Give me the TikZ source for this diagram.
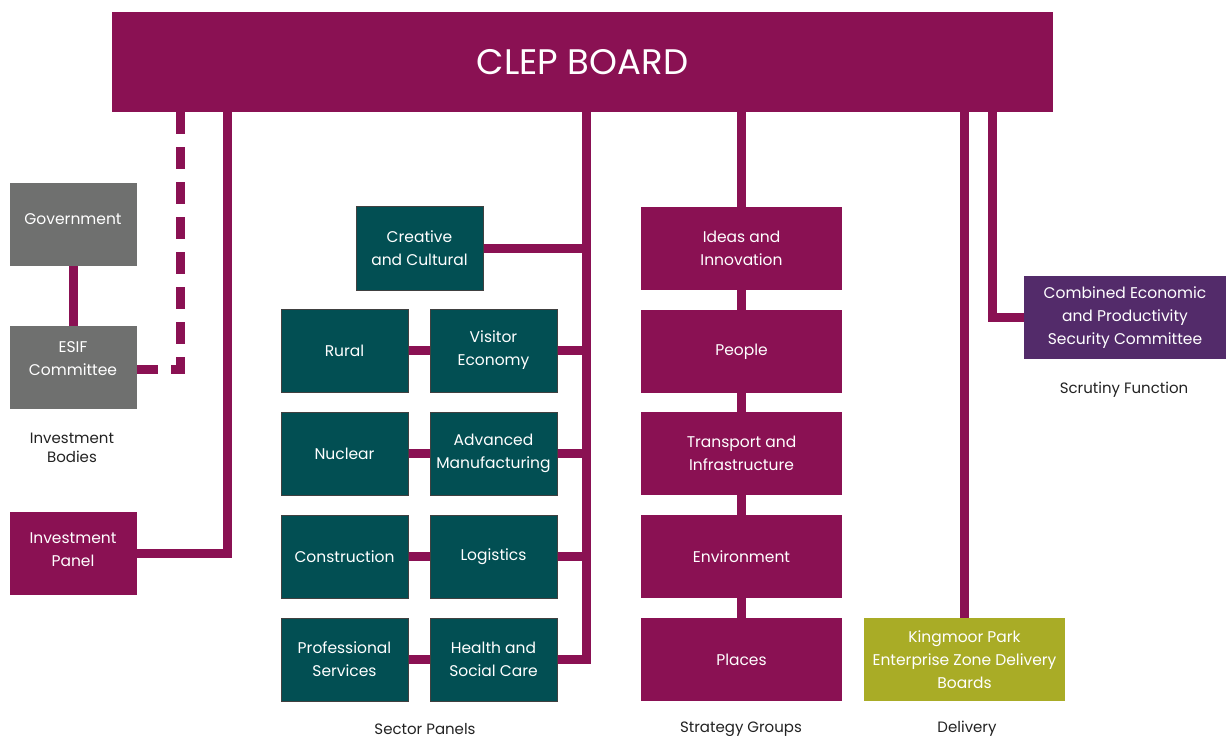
\documentclass[tikz,border=0pt]{standalone}
\usepackage{fontspec}
\setmainfont{Poppins}
\usetikzlibrary{calc}
\definecolor{maroon}{HTML}{8A1153}
\definecolor{teal}{HTML}{024F53}
\definecolor{greybox}{HTML}{6F706F}
\definecolor{olive}{HTML}{A9AC26}
\definecolor{purplebox}{HTML}{532B6A}
\definecolor{labeltxt}{HTML}{222222}
\tikzset{
  box/.style={inner sep=0pt, align=center, text=white, font=\fontsize{15.5}{23}\selectfont},
  sbox/.style={box, minimum width=127pt, minimum height=83pt},
  tbox/.style={sbox, fill=teal, draw=black!75, line width=1pt},
  gbox/.style={box, minimum width=201pt, minimum height=83pt},
  conn/.style={draw=maroon, line width=9pt},
  dashconn/.style={conn, dash pattern=on 22pt off 13pt},
  lbl/.style={text=labeltxt, align=center, font=\fontsize{15}{19}\selectfont},
}
\begin{document}
\begin{tikzpicture}[x=1pt,y=-1pt]
\useasboundingbox (0,0) rectangle (1226,738);
% board
\node[box, fill=maroon, minimum width=941pt, minimum height=100pt, font=\fontsize{35.5}{40}\selectfont] (board) at (582.5,62) {CLEP BOARD};
% left
\node[sbox, fill=greybox, label={[box,yshift=5.5pt]center:Government}] (gov) at (73,224.5) {};
\node[sbox, fill=greybox, label={[box,yshift=8.5pt]center:ESIF\\Committee}] (esif) at (73,367.5) {};
\node[sbox, fill=maroon, label={[box,yshift=4pt]center:Investment\\Panel}] (invest) at (73,553.5) {};
\node[lbl] (lblinv) at (72,448) {Investment\\Bodies};
% sector panels
\node[tbox] (creative) at (419.5,248.5) {Creative\\and Cultural};
\node[tbox] (rural) at (344.5,350.5) {Rural};
\node[tbox] (visitor) at (493.5,350.5) {Visitor\\Economy};
\node[tbox] (nuclear) at (344.5,453.5) {Nuclear};
\node[tbox] (advman) at (493.5,453.5) {Advanced\\Manufacturing};
\node[tbox] (constr) at (344.5,556.5) {Construction};
\node[tbox] (logist) at (493.5,556.5) {Logistics};
\node[tbox] (prof) at (344.5,659.5) {Professional\\Services};
\node[tbox] (health) at (493.5,659.5) {Health and\\Social Care};
\node[lbl] (lblsec) at (425,729) {Sector Panels};
% strategy groups
\node[gbox, fill=maroon] (ideas) at (741.5,248.5) {Ideas and\\Innovation};
\node[gbox, fill=maroon] (people) at (741.5,351.5) {People};
\node[gbox, fill=maroon] (transp) at (741.5,453.5) {Transport and\\Infrastructure};
\node[gbox, fill=maroon] (env) at (741.5,556.5) {Environment};
\node[gbox, fill=maroon] (places) at (741.5,659.5) {Places};
\node[lbl] (lblstr) at (741,729) {Strategy Groups};
% delivery
\node[gbox, fill=olive] (kingmoor) at (964.5,659.5) {Kingmoor Park\\Enterprise Zone Delivery\\Boards};
\node[lbl] (lbldel) at (967,729) {Delivery};
% scrutiny
\node[box, fill=purplebox, minimum width=202pt, minimum height=83pt] (cepsc) at (1125,317.5) {Combined Economic\\and Productivity\\Security Committee};
\node[lbl] (lblscr) at (1124,390) {Scrutiny Function};
% connectors
\draw[conn] (gov.south) -- (esif.north);
\draw[dashconn] ([xshift=69pt]board.south west) |- ([yshift=-1.5pt]esif.east);
\draw[conn] ([xshift=116pt]board.south west) |- (invest.east);
\coordinate (bus) at ([xshift=475pt]board.south west);
\draw[conn] (bus) |- (health.east);
\draw[conn] (creative.east) -- (creative.east -| bus);
\draw[conn] (visitor.east) -- (visitor.east -| bus);
\draw[conn] (advman.east) -- (advman.east -| bus);
\draw[conn] (logist.east) -- (logist.east -| bus);
\draw[conn] (rural) -- (visitor);
\draw[conn] (nuclear) -- (advman);
\draw[conn] (constr) -- (logist);
\draw[conn] (prof) -- (health);
\draw[conn] (ideas.north |- board.south) -- (ideas.north);
\draw[conn] (ideas.south) -- (people.north);
\draw[conn] (people.south) -- (transp.north);
\draw[conn] (transp.south) -- (env.north);
\draw[conn] (env.south) -- (places.north);
\draw[conn] (kingmoor.north |- board.south) -- (kingmoor.north);
\draw[conn] ([xshift=881pt]board.south west) |- (cepsc.west);
\end{tikzpicture}
\end{document}
